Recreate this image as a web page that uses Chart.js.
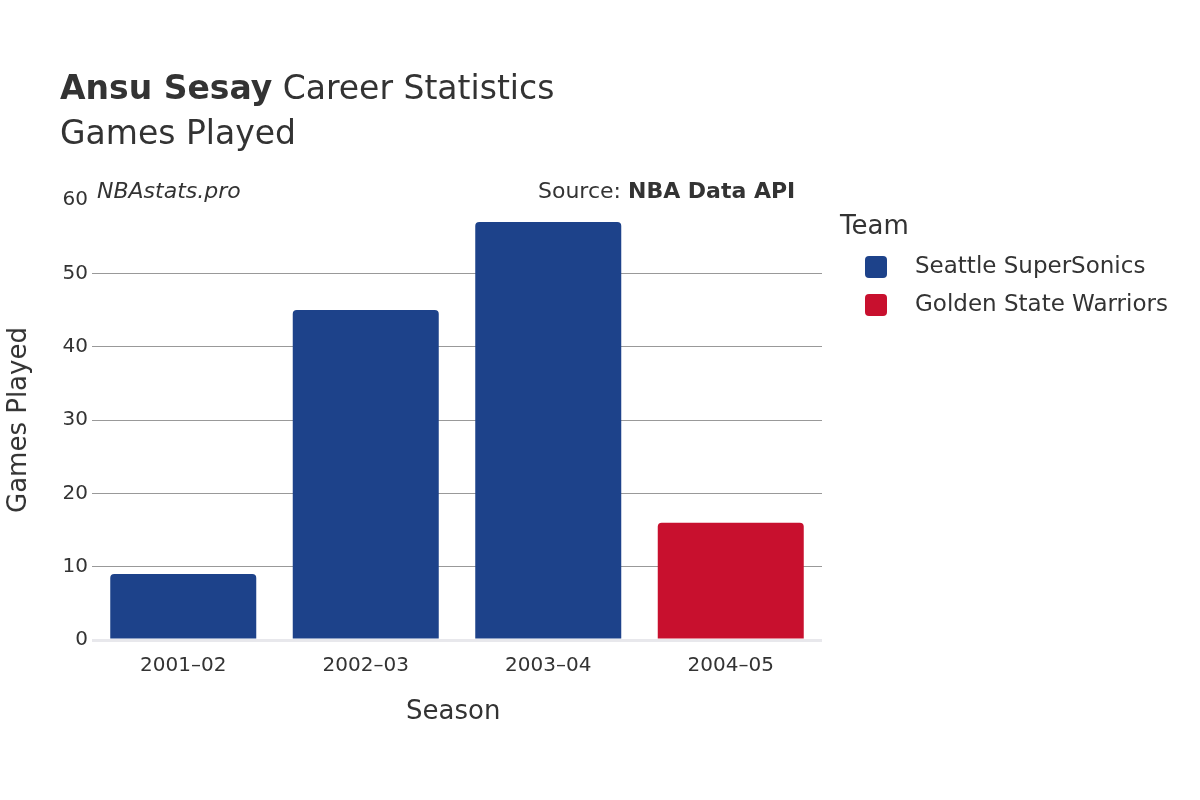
<!DOCTYPE html>
<html><head><meta charset="utf-8">
<script src="https://cdn.jsdelivr.net/npm/chart.js@4/dist/chart.umd.min.js"></script>
<style>
body{margin:0;width:1200px;height:800px;position:relative;font-family:"DejaVu Sans",sans-serif;color:#333;background:#fff;overflow:hidden}
.t{position:absolute;white-space:nowrap}
#c{position:absolute;left:0;top:0}
.sw{display:inline-block;width:22px;height:22px;border-radius:4px;vertical-align:middle;margin-right:28px}
</style></head><body>
<canvas id="c" width="1200" height="800"></canvas>
<div class="t" style="left:60px;top:68px;font-size:33px"><b>Ansu Sesay</b> Career Statistics</div>
<div class="t" style="left:60px;top:113px;font-size:33px">Games Played</div>
<div class="t" style="left:97px;top:178px;font-size:22px;font-style:italic">NBAstats.pro</div>
<div class="t" style="left:538px;top:178px;font-size:22px">Source: <b>NBA Data API</b></div>
<div class="t" style="left:406px;top:695px;font-size:26px">Season</div>
<div class="t" style="left:17px;top:420px;font-size:26px;transform:translate(-50%,-50%) rotate(-90deg)">Games Played</div>
<div class="t" style="left:840px;top:210px;font-size:26px">Team</div>
<div class="t" style="left:865px;top:252px;font-size:23px"><span class="sw" style="background:#1d428a"></span>Seattle SuperSonics</div>
<div class="t" style="left:865px;top:290px;font-size:23px"><span class="sw" style="background:#c8102e"></span>Golden State Warriors</div>
<script>
const seasons=["2001–02","2002–03","2003–04","2004–05"];
const sonics=[9,45,57,null];
const warriors=[null,null,null,16];
const yTicks=[0,10,20,30,40,50,60];
new Chart(document.getElementById('c'),{
type:'bar',
data:{labels:seasons,datasets:[
{label:"Seattle SuperSonics",data:sonics,backgroundColor:"#1d428a",borderRadius:4,borderSkipped:'bottom',categoryPercentage:0.8,barPercentage:1},
{label:"Golden State Warriors",data:warriors,backgroundColor:"#c8102e",borderRadius:4,borderSkipped:'bottom',categoryPercentage:0.8,barPercentage:1}]},
options:{responsive:false,animation:false,devicePixelRatio:1,
layout:{padding:{left:0,right:378,top:200,bottom:0}},
plugins:{legend:{display:false},tooltip:{enabled:false}},
scales:{
x:{stacked:true,grid:{display:false},border:{display:false},
 ticks:{color:'#333',font:{family:'DejaVu Sans',size:20},padding:6},
 afterFit:s=>{s.height=160;}},
y:{stacked:true,min:0,max:60,border:{display:false},
 afterBuildTicks:s=>{s.ticks=yTicks.map(v=>({value:v}));},
 grid:{color:c=>c.tick.value===0?'#e8e8ec':(c.tick.value===60?'rgba(0,0,0,0)':'#999'),lineWidth:c=>c.tick.value===0?3:1,drawTicks:false},
 ticks:{color:'#333',font:{family:'DejaVu Sans',size:20},padding:4},
 afterFit:s=>{s.width=92;}}
}}});
</script>
</body></html>
